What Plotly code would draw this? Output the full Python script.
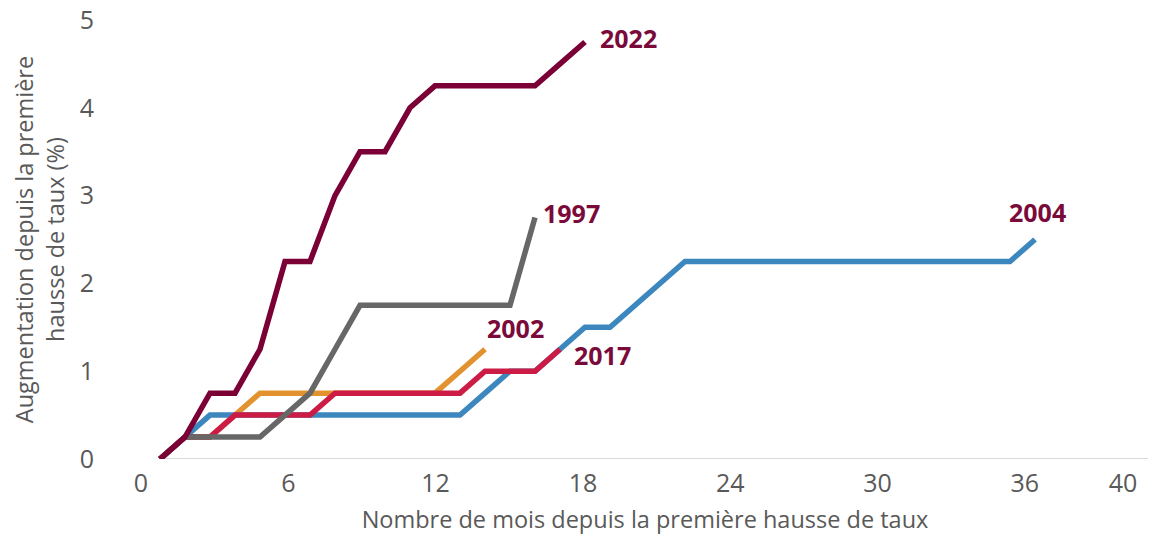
import plotly.graph_objects as go

# Months since first rate hike (month 1 = month before first hike)
months_1997 = list(range(1, 17))
rate_1997 = [0, 0.25, 0.25, 0.25, 0.25, 0.5, 0.75, 1.25, 1.75, 1.75, 1.75, 1.75, 1.75, 1.75, 1.75, 2.75]

months_2002 = list(range(1, 15))
rate_2002 = [0, 0.25, 0.25, 0.5, 0.75, 0.75, 0.75, 0.75, 0.75, 0.75, 0.75, 0.75, 1.0, 1.25]

months_2004 = list(range(1, 37))
rate_2004 = [0, 0.25, 0.5, 0.5, 0.5, 0.5, 0.5, 0.5, 0.5, 0.5, 0.5, 0.5, 0.5, 0.75, 1.0, 1.0,
             1.25, 1.5, 1.5, 1.75, 2.0, 2.25, 2.25, 2.25, 2.25, 2.25, 2.25, 2.25, 2.25, 2.25,
             2.25, 2.25, 2.25, 2.25, 2.25, 2.5]

months_2017 = list(range(1, 18))
rate_2017 = [0, 0.25, 0.25, 0.5, 0.5, 0.5, 0.5, 0.75, 0.75, 0.75, 0.75, 0.75, 0.75, 1.0, 1.0, 1.0, 1.25]

months_2022 = list(range(1, 19))
rate_2022 = [0, 0.25, 0.75, 0.75, 1.25, 2.25, 2.25, 3.0, 3.5, 3.5, 4.0, 4.25, 4.25, 4.25, 4.25, 4.25, 4.5, 4.75]

x_tick_vals = [0, 6, 12, 18, 24, 30, 36, 40]
y_tick_vals = [0, 1, 2, 3, 4, 5]

# (name, months, values, colour, label offsets) in drawing order (bottom -> top)
series = [
    ("2002", months_2002, rate_2002, "#E29330", 0, 21, "left"),
    ("2004", months_2004, rate_2004, "#3C87BE", 2, 28, "center"),
    ("2017", months_2017, rate_2017, "#CC1C45", 12, -6, "left"),
    ("1997", months_1997, rate_1997, "#676767", 6, 5, "left"),
    ("2022", months_2022, rate_2022, "#7A0036", 13, 4, "left"),
]

LABEL_COLOR = "#7A0A3A"
TEXT_GRAY = "#595959"
FONT = "Open Sans"

fig = go.Figure()
annotations = []
for name, mx, vy, col, xs, ys, xa in series:
    fig.add_trace(go.Scatter(x=mx, y=vy, mode="lines", name=name,
                             line=dict(color=col, width=5.5), showlegend=False,
                             hoverinfo="x+y"))
    annotations.append(dict(x=mx[-1], y=vy[-1], xref="x", yref="y", text=f"<b>{name}</b>",
                            showarrow=False, xanchor=xa, yanchor="middle",
                            xshift=xs, yshift=ys,
                            font=dict(family=FONT, size=25, color=LABEL_COLOR)))

# invisible trace to carry the tick-label axis
fig.add_trace(go.Scatter(x=[], y=[], xaxis="x2", yaxis="y", showlegend=False))

data_x_range = [0, 40.8]
first_month = min(months_2022)

fig.update_layout(
    width=1156, height=535,
    margin=dict(l=127, r=9, t=12, b=84, autoexpand=False),
    paper_bgcolor="white", plot_bgcolor="white",
    font=dict(family=FONT, color=TEXT_GRAY),
    xaxis=dict(range=data_x_range, showticklabels=False, showgrid=False,
               zeroline=False, showline=False, ticks="", automargin=False),
    xaxis2=dict(overlaying="x", side="bottom", anchor="y", automargin=False,
                range=[-0.244, 41.30], tickmode="array", tickvals=x_tick_vals,
                ticktext=[str(v) for v in x_tick_vals],
                showgrid=False, zeroline=False, showline=False, ticks="",
                tickfont=dict(family=FONT, size=25, color=TEXT_GRAY),
                ticklabelstandoff=7, ticklabeloverflow="allow",
                title=dict(text="Nombre de mois depuis la première hausse de taux",
                           font=dict(family=FONT, size=23.5, color=TEXT_GRAY),
                           standoff=13)),
    yaxis=dict(range=[0, 5], tickmode="array", tickvals=y_tick_vals, automargin=False,
               showgrid=False, zeroline=False, showline=False, ticks="",
               tickfont=dict(family=FONT, size=25, color=TEXT_GRAY),
               ticklabelstandoff=40, ticklabeloverflow="allow",
               title=dict(text="Augmentation depuis la première<br>hausse de taux (%)",
                          font=dict(family=FONT, size=23.5, color=TEXT_GRAY),
                          standoff=20)),
    annotations=annotations,
    shapes=[dict(type="line", xref="x", yref="y", x0=first_month, x1=data_x_range[1],
                 y0=0, y1=0, line=dict(color="#D9D9D9", width=2), layer="below")],
)

fig.write_html("out.html")
